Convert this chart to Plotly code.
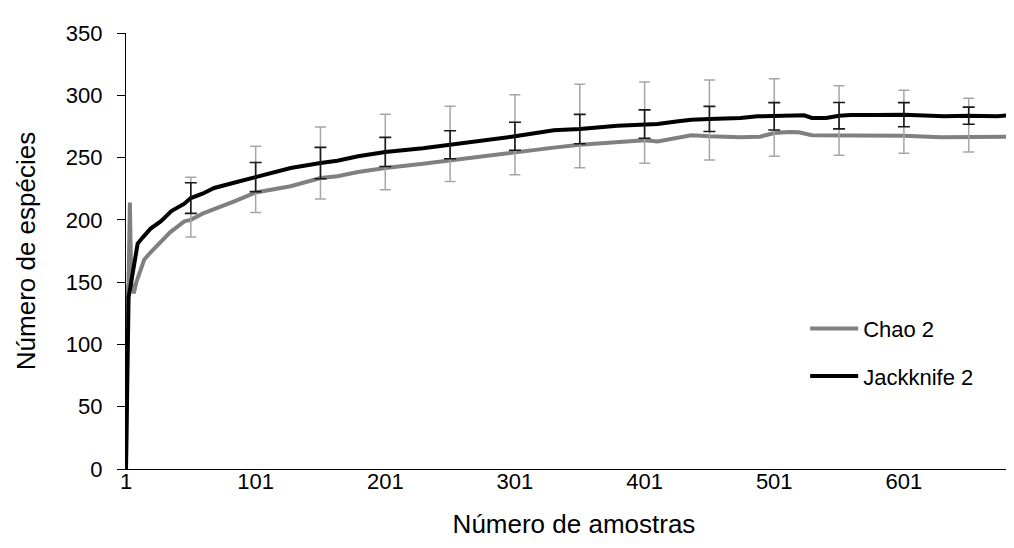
import plotly.graph_objects as go

# ---- data ----
jk_samples = [1, 2, 3, 5, 8, 10, 14, 20, 28, 36, 46, 51, 60, 69, 85, 101, 115, 128, 151, 164,
              180, 201, 230, 251, 280, 301, 331, 351, 380, 401, 411, 427, 437, 451, 475, 488,
              501, 524, 530, 541, 551, 560, 578, 601, 632, 651, 673, 692]
jk_values = [0, 110, 138, 150, 170, 181, 186, 193, 199, 207, 213, 217.5, 221, 225.6, 230, 234.4,
             238, 241.6, 245.6, 247.5, 251, 254.5, 257.5, 260.3, 264, 267.1, 272, 272.9, 275.5,
             276.9, 277, 279.1, 280.4, 281, 281.8, 283.1, 283.1, 283.9, 281.8, 281.8, 283.6,
             284.2, 284.2, 284.4, 283.1, 283.6, 283.1, 284.8]

ch_samples = [1, 2, 3, 4, 5, 7, 9, 12, 15, 20, 26, 35, 46, 51, 60, 72, 85, 101, 115, 128, 151,
              164, 180, 201, 230, 251, 280, 301, 331, 351, 380, 401, 411, 427, 437, 451, 475,
              490, 501, 512, 520, 530, 551, 575, 601, 630, 651, 667, 692]
ch_values = [0, 140, 150, 214, 150, 141, 150, 160, 168, 174, 180, 190, 198.8, 200, 205, 209.5,
             215, 222, 225, 227, 233.6, 235, 238.4, 241.6, 245, 247.8, 251, 254.5, 258, 260.3,
             262, 263.9, 263, 266.3, 267.9, 267.1, 266.3, 266.8, 269.7, 270.5, 270.3, 267.9,
             267.9, 267.9, 267.6, 266.3, 266.5, 266.3, 266.8]

err_samples = [51, 101, 151, 201, 251, 301, 351, 401, 451, 501, 551, 601, 651, 692]
jk_err = [12.3, 11.7, 12.6, 11.7, 11.2, 11.2, 11.8, 11.4, 10.1, 11.0, 10.6, 9.7, 6.9, 5.5]
ch_err_plus = [34.2, 37.0, 40.9, 43.1, 43.3, 46.0, 48.5, 46.8, 45.2, 43.6, 39.8, 36.4, 31.1, 28.9]
ch_err_minus = [13.8, 16.0, 16.9, 17.4, 17.1, 18.2, 18.4, 18.5, 19.0, 18.7, 16.1, 14.2, 12.0, 11.8]

x_tick_vals = [1, 101, 201, 301, 401, 501, 601]
x_tick_text = ["1", "101", "201", "301", "401", "501", "601"]
y_tick_vals = [0, 50, 100, 150, 200, 250, 300, 350]

series_names = ["Chao 2", "Jackknife 2"]

# centres of error bars taken from the series themselves
jk_lookup = dict(zip(jk_samples, jk_values))
ch_lookup = dict(zip(ch_samples, ch_values))
jk_centres = [jk_lookup[s] for s in err_samples]
ch_centres = [ch_lookup[s] for s in err_samples]

FONT = "Liberation Sans, Arial, sans-serif"

fig = go.Figure()

fig.add_trace(go.Scatter(
    x=ch_samples, y=ch_values, mode="lines", name=series_names[0],
    line=dict(color="#808080", width=4), legendgroup="a"))
fig.add_trace(go.Scatter(
    x=err_samples, y=ch_centres, mode="markers", showlegend=False,
    marker=dict(size=1, opacity=0),
    error_y=dict(type="data", symmetric=False, array=ch_err_plus, arrayminus=ch_err_minus,
                 color="#a6a6a6", thickness=1.5, width=5.5)))
fig.add_trace(go.Scatter(
    x=jk_samples, y=jk_values, mode="lines", name=series_names[1],
    line=dict(color="#000000", width=4), legendgroup="b"))
fig.add_trace(go.Scatter(
    x=err_samples, y=jk_centres, mode="markers", showlegend=False,
    marker=dict(size=1, opacity=0),
    error_y=dict(type="data", array=jk_err, color="#1a1a1a", thickness=1.6, width=6)))

fig.update_layout(
    width=1014, height=548,
    margin=dict(l=118, r=0, t=25, b=87),
    paper_bgcolor="white", plot_bgcolor="white",
    font=dict(family=FONT, size=22, color="#000000"),
    showlegend=True,
    legend=dict(x=0.758, y=0.267, xanchor="left", yanchor="middle",
                bgcolor="rgba(0,0,0,0)", font=dict(size=22), itemwidth=48,
                traceorder="grouped", tracegroupgap=16),
    xaxis=dict(range=[1, 692.1], tickvals=x_tick_vals, ticktext=x_tick_text,
               showgrid=False, zeroline=False, showline=True, linecolor="#000000",
               linewidth=1.2, ticks="", ticklen=0, ticklabelstandoff=-8,
               title=dict(text="Número de amostras", standoff=22)),
    yaxis=dict(range=[0, 350], tickvals=y_tick_vals, showgrid=False, zeroline=False,
               showline=True, linecolor="#000000", linewidth=1.2,
               ticks="outside", ticklen=8, tickcolor="#000000", tickwidth=1.2,
               ticklabelstandoff=10,
               title=dict(text="Número de espécies", standoff=22)),
)

fig.write_html("out.html")
